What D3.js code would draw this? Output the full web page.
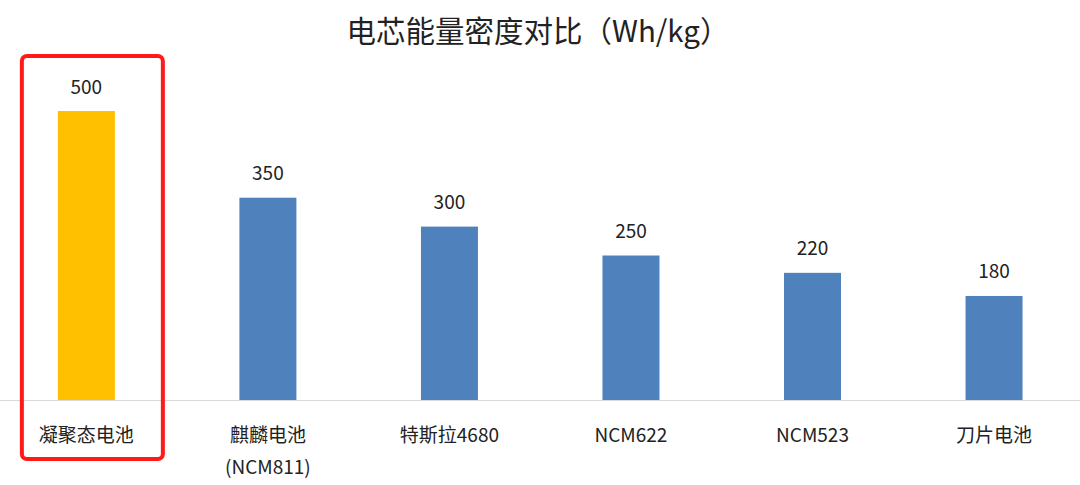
<!DOCTYPE html>
<html>
<head>
<meta charset="utf-8">
<script src="https://cdn.jsdelivr.net/npm/d3@7.9.0/dist/d3.min.js"></script>
<style>
  html, body { margin: 0; padding: 0; background: #fff; }
  svg { display: block; font-family: "Noto Sans CJK SC", "Noto Sans", sans-serif; }
</style>
</head>
<body>
<svg id="chart" width="1080" height="485"></svg>
<script>
// data
const categories = ['凝聚态电池', '麒麟电池\n(NCM811)', '特斯拉4680', 'NCM622', 'NCM523', '刀片电池'];
const values = [500, 350, 300, 250, 220, 180];
const highlight = '凝聚态电池';

const width = 1080, height = 485;
const baseY = 400;

const svg = d3.select('#chart');

const x = d3.scaleBand()
  .domain(categories)
  .range([-4.4, 1084.8])
  .paddingInner(0.686)
  .paddingOuter(0.343);

const y = d3.scaleLinear()
  .domain([0, 500])
  .range([baseY, 111]);

// title
svg.append('text')
  .attr('x', 538)
  .attr('y', 29)
  .attr('text-anchor', 'middle')
  .attr('dominant-baseline', 'central')
  .attr('font-size', 29.5)
  .attr('fill', '#222')
  .text('电芯能量密度对比（Wh/kg）');

// bars
let data = categories.map((c, i) => ({ label: c, value: values[i] }));

svg.selectAll('rect.bar')
  .data(data)
  .join('rect')
  .attr('class', 'bar')
  .attr('x', d => x(d.label))
  .attr('width', x.bandwidth())
  .attr('y', d => y(d.value))
  .attr('height', d => baseY - y(d.value))
  .attr('fill', d => d.label === highlight ? '#FFC000' : '#4F81BD');

// value labels
svg.selectAll('text.val')
  .data(data)
  .join('text')
  .attr('class', 'val')
  .attr('x', d => x(d.label) + x.bandwidth() / 2)
  .attr('y', d => y(d.value) - 26)
  .attr('text-anchor', 'middle')
  .attr('dominant-baseline', 'central')
  .attr('font-size', 19)
  .attr('fill', '#222')
  .text(d => d.value);

// baseline
svg.append('line')
  .attr('x1', 0).attr('x2', width)
  .attr('y1', baseY + 0.5).attr('y2', baseY + 0.5)
  .attr('stroke', '#d9d9d9')
  .attr('stroke-width', 1.2);

// category labels (may have two lines)
svg.selectAll('text.cat')
  .data(data)
  .join('text')
  .attr('class', 'cat')
  .attr('text-anchor', 'middle')
  .attr('font-size', 19)
  .attr('fill', '#222')
  .each(function (d) {
    const lines = d.label.split('\n');
    const cx = x(d.label) + x.bandwidth() / 2;
    d3.select(this).selectAll('tspan')
      .data(lines)
      .join('tspan')
      .attr('x', cx)
      .attr('y', (l, i) => 433 + i * 32)
      .attr('dominant-baseline', 'central')
      .text(l => l);
  });

// red highlight box round the first category
const hx = x(highlight);
svg.append('rect')
  .attr('x', hx - 36)
  .attr('y', 56)
  .attr('width', 141)
  .attr('height', 403)
  .attr('rx', 5)
  .attr('fill', 'none')
  .attr('stroke', '#FF1A1A')
  .attr('stroke-width', 4);
</script>
</body>
</html>
